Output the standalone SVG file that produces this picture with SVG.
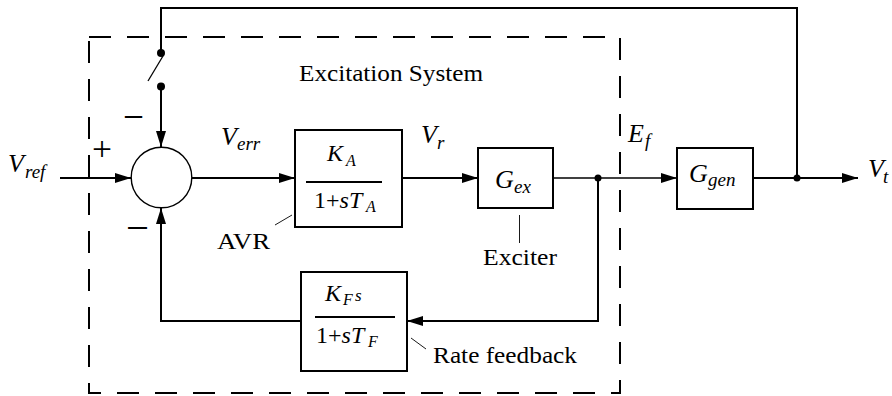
<svg xmlns="http://www.w3.org/2000/svg" width="892" height="396" viewBox="0 0 892 396" font-family="Liberation Serif, DejaVu Serif, serif">
<style>
  .ln{fill:none;stroke:#000;stroke-width:2}
  .thin{fill:none;stroke:#000;stroke-width:1.3}
  .box{fill:#fff;stroke:#000;stroke-width:2}
  .lead{fill:none;stroke:#000;stroke-width:0.9}
  .dash{fill:none;stroke:#000;stroke-width:2;stroke-dasharray:22 16}
  .dot{fill:#000}
  .t{font-family:Liberation Serif, DejaVu Serif, serif;fill:#000}
  .lbl{font-size:24px}
  .m{font-style:italic}
</style>
<defs>
  <marker id="ah" markerUnits="userSpaceOnUse" markerWidth="16" markerHeight="10" refX="16" refY="5" orient="auto">
    <path d="M0,0 L16,5 L0,10 z" fill="#000"/>
  </marker>
</defs>

<g id="boundary">
  <rect class="dash" x="89" y="37" width="531" height="356"/>
  <text class="t lbl" x="299" y="81" textLength="184" lengthAdjust="spacingAndGlyphs">Excitation System</text>
</g>

<g id="connectors">
  <path class="ln" d="M60,178 H131" marker-end="url(#ah)"/>
  <path class="ln" d="M192,178 H295" marker-end="url(#ah)"/>
  <path class="ln" d="M402,178 H478" marker-end="url(#ah)"/>
  <path class="thin" d="M553,178 H598"/>
  <path class="thin" d="M598,178 H677" marker-end="url(#ah)"/>
  <path class="ln" d="M753,178 H858" marker-end="url(#ah)"/>
  <path class="ln" d="M797,178 V8 H161 V53"/>
  <path class="thin" d="M163,56 L148,81"/>
  <path class="ln" d="M161,86.5 V147" marker-end="url(#ah)"/>
  <path class="ln" d="M598,178 V321 H407" marker-end="url(#ah)"/>
  <path class="ln" d="M301,321 H161 V208" marker-end="url(#ah)"/>
  <circle class="dot" cx="161" cy="53" r="4"/>
  <circle class="dot" cx="161" cy="86.5" r="4"/>
  <circle class="dot" cx="598" cy="178" r="3.5"/>
  <circle class="dot" cx="797" cy="178" r="3.5"/>
</g>

<g id="sum">
  <circle cx="161.5" cy="177.5" r="30.3" fill="#fff" stroke="#000" stroke-width="1.4"/>
  <text class="t" x="92" y="160" font-size="34" textLength="20" lengthAdjust="spacingAndGlyphs">+</text>
  <text class="t" x="123" y="130" font-size="40" textLength="21" lengthAdjust="spacingAndGlyphs">−</text>
  <text class="t" x="126" y="241" font-size="40" textLength="23" lengthAdjust="spacingAndGlyphs">−</text>
</g>

<g id="vref">
  <text class="t m"><tspan x="8" y="172" font-size="26">V</tspan><tspan x="25" y="178" font-size="19">ref</tspan></text>
</g>

<g id="verr">
  <text class="t m"><tspan x="221" y="145" font-size="26">V</tspan><tspan x="237" y="150" font-size="19">err</tspan></text>
</g>

<g id="avr">
  <rect class="box" x="295" y="130" width="107" height="97"/>
  <line x1="306" y1="182" x2="382" y2="182" stroke="#000" stroke-width="2"/>
  <text class="t m"><tspan x="327" y="161" font-size="24">K</tspan><tspan x="346" y="166" font-size="16">A</tspan></text>
  <text class="t" font-size="24"><tspan x="314" y="208">1+</tspan><tspan class="m">sT</tspan><tspan class="m" x="366" y="212" font-size="16">A</tspan></text>
  <path class="lead" d="M292,215 L275,225"/>
  <text class="t lbl" x="217" y="249" textLength="53" lengthAdjust="spacingAndGlyphs">AVR</text>
</g>

<g id="vr">
  <text class="t m"><tspan x="421" y="143" font-size="26">V</tspan><tspan x="437" y="149" font-size="19">r</tspan></text>
</g>

<g id="exciter">
  <rect class="box" x="478" y="148" width="75" height="60"/>
  <text class="t m"><tspan x="495" y="188" font-size="26">G</tspan><tspan x="514" y="193" font-size="19">ex</tspan></text>
  <path class="lead" d="M519.5,215 V243"/>
  <text class="t lbl" x="483" y="265" textLength="74" lengthAdjust="spacingAndGlyphs">Exciter</text>
</g>

<g id="ef">
  <text class="t m"><tspan x="628" y="142" font-size="26">E</tspan><tspan x="645" y="147" font-size="19">f</tspan></text>
</g>

<g id="generator">
  <rect class="box" x="677" y="148" width="76" height="61"/>
  <text class="t m"><tspan x="689" y="182" font-size="26">G</tspan><tspan x="708" y="186" font-size="19">gen</tspan></text>
</g>

<g id="vt">
  <text class="t m"><tspan x="868" y="177" font-size="26">V</tspan><tspan x="883" y="183" font-size="19">t</tspan></text>
</g>

<g id="rate-feedback">
  <rect class="box" x="301" y="272" width="106" height="99"/>
  <line x1="315" y1="317" x2="395" y2="317" stroke="#000" stroke-width="2"/>
  <text class="t m"><tspan x="325" y="301" font-size="24">K</tspan><tspan x="343" y="305" font-size="16">F</tspan><tspan x="355" y="301" font-size="17">s</tspan></text>
  <text class="t" font-size="24"><tspan x="316" y="343">1+</tspan><tspan class="m">sT</tspan><tspan class="m" x="368" y="347" font-size="16">F</tspan></text>
  <path class="lead" d="M411,338 L426,349"/>
  <text class="t lbl" x="433" y="363" textLength="144" lengthAdjust="spacingAndGlyphs">Rate feedback</text>
</g>
</svg>
